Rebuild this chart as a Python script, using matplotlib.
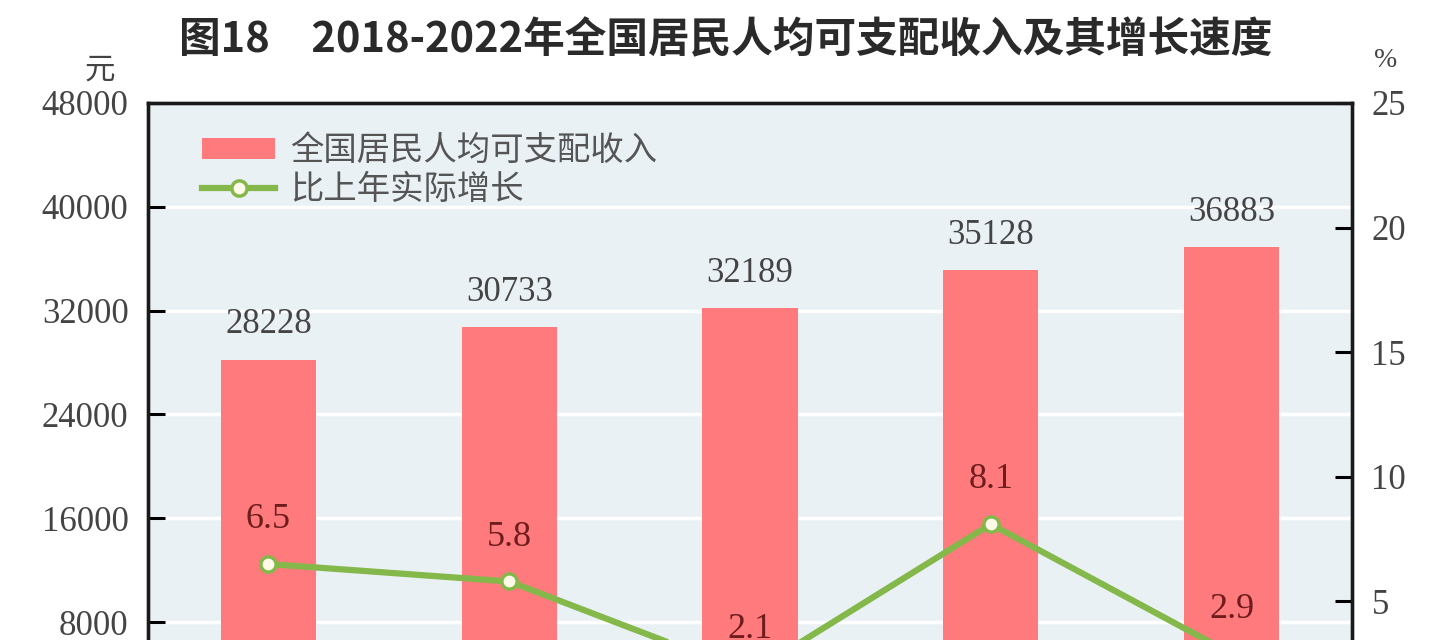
import numpy as np
import matplotlib
matplotlib.use('Agg')
import matplotlib.pyplot as plt
from matplotlib.patches import Patch
from matplotlib.lines import Line2D

plt.rcParams['font.family'] = ['Noto Sans CJK SC', 'DejaVu Sans']

years = ['2018', '2019', '2020', '2021', '2022']
income = [28228, 30733, 32189, 35128, 36883]
growth = [6.5, 5.8, 2.1, 8.1, 2.9]

bar_color = '#ff7a7d'
line_color = '#84b84a'
bg_color = '#eaf1f5'
serif = 'Liberation Serif'

fig = plt.figure(figsize=(14.51, 6.4), dpi=100)
# the bottom of the chart (years axis) lies below the picture, as in the source crop
ax = fig.add_axes([0.102, -0.1344, 0.8298, 0.9735])
ax.set_facecolor(bg_color)
x = np.arange(len(years))

ax.bar(x, income, width=0.395, color=bar_color, zorder=2)
ax.set_xlim(-0.5, 4.5)
ax.set_ylim(0, 48000)
ax.set_yticks(np.arange(0, 48001, 8000))
ax.set_xticks(x)
ax.set_xticklabels([])
ax.yaxis.grid(True, color='white', linewidth=2.5, zorder=1)
ax.set_axisbelow(True)
ax.tick_params(axis='y', direction='in', length=12, width=2.2, pad=14,
               labelsize=25, labelcolor='#444444')
ax.tick_params(axis='x', length=0)
for lbl in ax.get_yticklabels():
    lbl.set_fontfamily(serif)
for s in ax.spines.values():
    s.set_linewidth(2.4)
    s.set_color('#1a1a1a')

for xi, v in zip(x, income):
    ax.annotate(str(v), (xi, v), xytext=(0, 25), textcoords='offset points',
                ha='center', va='center', fontsize=25, color='#444444',
                family=serif)

ax2 = ax.twinx()
ax2.set_ylim(0, 25)
ax2.set_yticks(np.arange(0, 26, 5))
ax2.plot(x, growth, color=line_color, linewidth=4.5, marker='o',
         markersize=11, markerfacecolor='#fffbe8', markeredgecolor=line_color,
         markeredgewidth=2.5, zorder=3)
ax2.tick_params(axis='y', direction='in', length=12, width=2.2, pad=14,
                labelsize=25, labelcolor='#444444')
for lbl in ax2.get_yticklabels():
    lbl.set_fontfamily(serif)
for s in ax2.spines.values():
    s.set_linewidth(2.4)
    s.set_color('#1a1a1a')

for xi, g in zip(x, growth):
    ax2.annotate(f'{g}', (xi, g), xytext=(0, 32), textcoords='offset points',
                 ha='center', va='center', fontsize=26, color='#6e1c1c',
                 family=serif)

handles = [Patch(facecolor=bar_color, edgecolor='none'),
           Line2D([0], [0], color=line_color, linewidth=4.5, marker='o',
                  markersize=11, markerfacecolor='#fffbe8',
                  markeredgecolor=line_color, markeredgewidth=2.5)]
ax2.legend(handles, ['全国居民人均可支配收入', '比上年实际增长'],
           loc='upper left', bbox_to_anchor=(0.02, 1.0), frameon=False,
           fontsize=24, labelcolor='#555555', handlelength=2.2,
           handleheight=0.6, handletextpad=0.45, labelspacing=0.12)

fig.text(0.5, 0.937, '图18　2018-2022年全国居民人均可支配收入及其增长速度',
         ha='center', va='center', fontsize=30, color='#2a2a2a',
         fontweight='bold')
fig.text(0.069, 0.89, '元', ha='center', va='center', fontsize=22,
         color='#444444')
fig.text(0.955, 0.905, '%', ha='center', va='center', fontsize=20,
         color='#444444', family=serif)

fig.savefig('out.png', dpi=100)
